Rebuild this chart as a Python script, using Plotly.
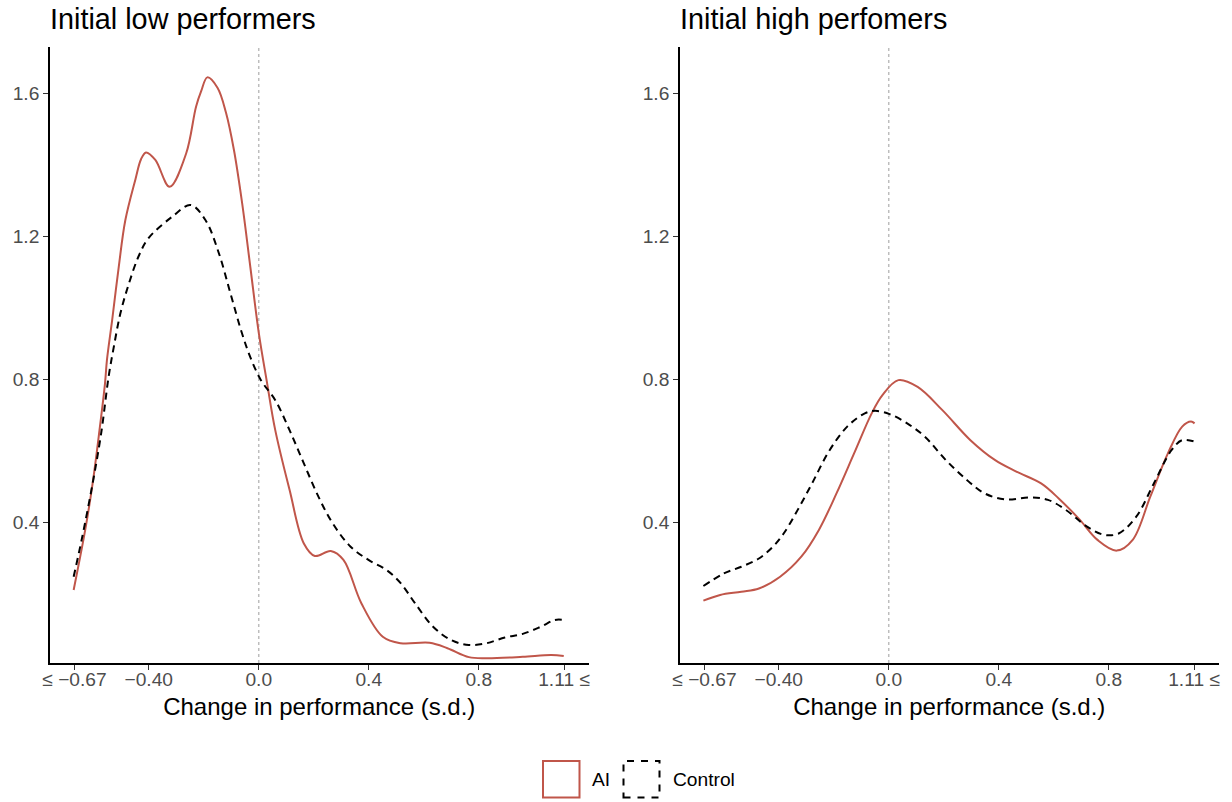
import plotly.graph_objects as go

# ---------------- data ----------------
low_ai_x = [-0.673, -0.631, -0.604, -0.579, -0.559, -0.552, -0.533, -0.509, -0.485, -0.448, -0.428, -0.410,
            -0.376, -0.324, -0.264, -0.228, -0.209, -0.187, -0.150, -0.119, -0.090, -0.060,
            -0.030, 0.000, 0.030, 0.060, 0.112,
            0.164, 0.204, 0.262, 0.308, 0.373, 0.451, 0.516, 0.621, 0.686, 0.764, 0.829, 0.960,
            1.064, 1.109]
low_ai_y = [0.210, 0.378, 0.508, 0.657, 0.788, 0.853, 0.965, 1.114, 1.245, 1.360, 1.415, 1.434,
            1.413, 1.338, 1.431, 1.562, 1.606, 1.644, 1.615, 1.545, 1.440, 1.290,
            1.110, 0.930, 0.790, 0.657, 0.490,
            0.340, 0.305, 0.319, 0.294, 0.173, 0.079, 0.061, 0.062, 0.047, 0.022, 0.019, 0.023,
            0.028, 0.025]

low_ctrl_x = [-0.673, -0.644, -0.604, -0.573, -0.546, -0.527, -0.503, -0.473, -0.436, -0.400,
              -0.315, -0.248, -0.194, -0.145, -0.103, -0.061, -0.030, 0.008, 0.060,
              0.112, 0.164, 0.217, 0.269, 0.334, 0.399, 0.464, 0.516, 0.568, 0.634, 0.699,
              0.764, 0.829, 0.895, 0.960, 1.025, 1.077, 1.109]
low_ctrl_y = [0.247, 0.350, 0.508, 0.648, 0.806, 0.890, 0.984, 1.065, 1.145, 1.195,
              1.254, 1.287, 1.245, 1.152, 1.040, 0.928, 0.860, 0.797, 0.741,
              0.657, 0.564, 0.471, 0.396, 0.331, 0.294, 0.266, 0.229, 0.173, 0.107, 0.070,
              0.056, 0.061, 0.077, 0.087, 0.107, 0.126, 0.126]

high_ai_x = [-0.674, -0.613, -0.536, -0.472, -0.395, -0.318, -0.254, -0.190, -0.126, -0.062,
             -0.023, 0.035, 0.105, 0.195, 0.297, 0.387, 0.464, 0.554, 0.618, 0.695, 0.759,
             0.829, 0.887, 0.951, 1.015, 1.067, 1.099, 1.112]
high_ai_y = [0.180, 0.196, 0.205, 0.214, 0.247, 0.303, 0.378, 0.480, 0.592, 0.704,
             0.755, 0.797, 0.778, 0.713, 0.629, 0.573, 0.541, 0.508, 0.466, 0.406, 0.350,
             0.320, 0.350, 0.471, 0.592, 0.667, 0.681, 0.676]

high_ctrl_x = [-0.674, -0.600, -0.536, -0.472, -0.421, -0.382, -0.331, -0.279, -0.215, -0.151,
               -0.087, -0.049, 0.003, 0.067, 0.131, 0.208, 0.285, 0.349, 0.426, 0.515, 0.579,
               0.644, 0.721, 0.785, 0.836, 0.900, 0.964, 1.028, 1.067, 1.112]
high_ctrl_y = [0.221, 0.256, 0.275, 0.298, 0.331, 0.368, 0.434, 0.508, 0.601, 0.667,
               0.704, 0.711, 0.702, 0.676, 0.639, 0.573, 0.517, 0.480, 0.463, 0.469, 0.462,
               0.434, 0.387, 0.364, 0.368, 0.415, 0.508, 0.601, 0.629, 0.625]

x_tick_vals = [-0.67, -0.40, 0.0, 0.4, 0.8, 1.11]
x_tick_text = ["≤ −0.67", "−0.40", "0.0", "0.4", "0.8", "1.11 ≤"]
y_tick_vals = [0.4, 0.8, 1.2, 1.6]
y_tick_text = ["0.4", "0.8", "1.2", "1.6"]
panel_titles = ["Initial low performers", "Initial high perfomers"]
x_title = "Change in performance (s.d.)"
legend_labels = ["AI", "Control"]

# ---------------- styling ----------------
RED = "#C0564A"
FONT = "Liberation Sans, Arial, sans-serif"
W, H = 1232, 802

def px(x):
    return x / W

def py(y):
    return 1 - y / H

fig = go.Figure()

panels = [
    (low_ai_x, low_ai_y, low_ctrl_x, low_ctrl_y, "x", "y"),
    (high_ai_x, high_ai_y, high_ctrl_x, high_ctrl_y, "x2", "y2"),
]
for ax, ay, cx, cy, xa, ya in panels:
    fig.add_trace(go.Scatter(x=ax, y=ay, mode="lines", xaxis=xa, yaxis=ya,
                             line=dict(color=RED, width=2, shape="spline", smoothing=1.0),
                             showlegend=False, hoverinfo="skip"))
    fig.add_trace(go.Scatter(x=cx, y=cy, mode="lines", xaxis=xa, yaxis=ya,
                             line=dict(color="black", width=2, dash="7px,5px", shape="spline", smoothing=1.0),
                             showlegend=False, hoverinfo="skip"))

xr = [-0.759, 1.199]
yr = [0.0056, 1.729]
ydom = [py(663), py(47)]

xcommon = dict(range=xr, tickmode="array", tickvals=x_tick_vals, ticktext=x_tick_text,
               showline=True, linecolor="black", linewidth=1.6, ticks="outside", ticklen=5,
               tickwidth=1.2, tickcolor="#333333", showgrid=False, zeroline=False,
               automargin=False, ticklabelstandoff=-7,
               tickfont=dict(family=FONT, size=19.2, color="#4d4d4d"),
               title=dict(text=x_title, font=dict(family=FONT, size=24, color="black"), standoff=9))
ycommon = dict(range=yr, tickmode="array", tickvals=y_tick_vals, ticktext=y_tick_text,
               showline=True, linecolor="black", linewidth=1.6, ticks="outside", ticklen=5,
               tickwidth=1.2, tickcolor="#333333", showgrid=False, zeroline=False,
               automargin=False,
               tickfont=dict(family=FONT, size=19.2, color="#4d4d4d"), domain=ydom)

fig.update_layout(
    width=W, height=H,
    margin=dict(l=0, r=0, t=0, b=0),
    paper_bgcolor="white", plot_bgcolor="white",
    xaxis=dict(domain=[px(50), px(588.5)], anchor="y", **xcommon),
    yaxis=dict(anchor="x", **ycommon),
    xaxis2=dict(domain=[px(680), px(1218.5)], anchor="y2", **xcommon),
    yaxis2=dict(anchor="x2", **ycommon),
    showlegend=False,
)

# dotted zero lines
for xa, ya in [("x", "y"), ("x2", "y2")]:
    fig.add_shape(type="line", xref=xa, yref=ya + " domain", x0=0, x1=0, y0=0, y1=1,
                  line=dict(color="#bdbdbd", width=1.5, dash="dot"), layer="below")

# panel titles
for t, xpos in zip(panel_titles, [48, 678]):
    fig.add_annotation(text=t, x=px(xpos), y=py(1), xref="paper", yref="paper",
                       xanchor="left", yanchor="top", showarrow=False,
                       font=dict(family=FONT, size=28.8, color="black"))

# legend (boxes + labels)
fig.add_shape(type="rect", xref="paper", yref="paper", x0=px(543), x1=px(579.5), y0=py(797.5), y1=py(761),
              line=dict(color=RED, width=2), fillcolor="white")
fig.add_shape(type="rect", xref="paper", yref="paper", x0=px(623.5), x1=px(659.5), y0=py(797.5), y1=py(761),
              line=dict(color="black", width=2, dash="7px,7px"), fillcolor="white")
fig.add_annotation(text=legend_labels[0], x=px(590), y=py(779), xref="paper", yref="paper",
                   xanchor="left", yanchor="middle", showarrow=False,
                   font=dict(family=FONT, size=19.2, color="black"))
fig.add_annotation(text=legend_labels[1], x=px(671), y=py(779), xref="paper", yref="paper",
                   xanchor="left", yanchor="middle", showarrow=False,
                   font=dict(family=FONT, size=19.2, color="black"))

fig.write_html("out.html")
